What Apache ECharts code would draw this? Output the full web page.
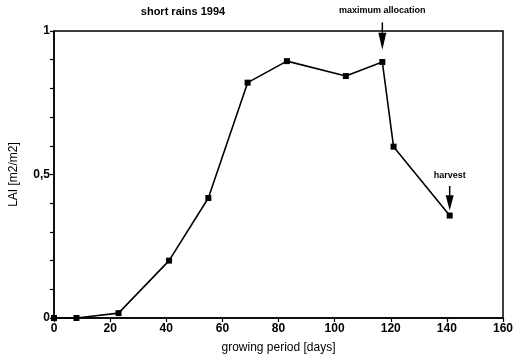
<!DOCTYPE html>
<html><head><meta charset="utf-8">
<script src="https://cdn.jsdelivr.net/npm/echarts@6/dist/echarts.min.js"></script>
<style>html,body{margin:0;padding:0;background:#fff}#c{width:519px;height:360px}</style>
</head><body><div id="c"></div>
<script>
const days = [0, 8, 23, 41, 55, 69, 83, 104, 117, 121, 141];
const lai = [0, 0, 0.017, 0.2, 0.418, 0.82, 0.895, 0.843, 0.892, 0.597, 0.357];
const yTickLabels = {0: '0', 0.5: '0,5', 1: '1'};
const title = 'short rains 1994';
const annotations = [
  {text: 'maximum allocation', x: 117, yText: 1.07, yFrom: 1.03, yTo: 0.935},
  {text: 'harvest', x: 141, yText: 0.495, yFrom: 0.46, yTo: 0.375}
];
const font = 'Liberation Sans, Arial, sans-serif';
const chart = echarts.init(document.getElementById('c'));
chart.setOption({
  animation: false,
  backgroundColor: '#fff',
  title: {text: title, left: 178, top: 1, textAlign: 'center',
    textStyle: {fontFamily: font, fontSize: 11, fontWeight: 'bold', color: '#000'}},
  grid: {left: 54, right: 16, top: 31, bottom: 42, show: true, borderColor: '#000', borderWidth: 1.5, backgroundColor: 'transparent'},
  xAxis: {type: 'value', min: 0, max: 160, interval: 20,
    name: 'growing period [days]', nameLocation: 'middle', nameGap: 24,
    nameTextStyle: {fontFamily: font, fontSize: 12, color: '#000'},
    axisLine: {lineStyle: {color: '#000', width: 1.5}},
    axisTick: {show: true, length: 4, lineStyle: {color: '#000', width: 1.2}},
    axisLabel: {fontFamily: font, fontSize: 12, fontWeight: 'bold', color: '#000', margin: 5},
    splitLine: {show: false}},
  yAxis: {type: 'value', min: 0, max: 1, interval: 0.1,
    name: 'LAI [m2/m2]', nameLocation: 'middle', nameGap: 34,
    nameTextStyle: {fontFamily: font, fontSize: 12, color: '#000'},
    axisLine: {lineStyle: {color: '#000', width: 1.5}},
    axisTick: {show: true, interval: 0, length: 4, lineStyle: {color: '#000', width: 1.2}},
    axisLabel: {interval: 0, fontFamily: font, fontSize: 12, fontWeight: 'bold', color: '#000', margin: 4,
      formatter: v => { const k = Math.round(v * 10) / 10; return yTickLabels[k] !== undefined ? yTickLabels[k] : ''; }},
    splitLine: {show: false}},
  series: [{
    type: 'line', data: days.map((d, i) => [d, lai[i]]),
    symbol: 'rect', symbolSize: 6, showSymbol: true,
    itemStyle: {color: '#000'},
    lineStyle: {color: '#000', width: 1.6}
  }]
});
const g = [];
annotations.forEach(a => {
  const pt = chart.convertToPixel({gridIndex: 0}, [a.x, a.yText]);
  const p1 = chart.convertToPixel({gridIndex: 0}, [a.x, a.yFrom]);
  const p2 = chart.convertToPixel({gridIndex: 0}, [a.x, a.yTo]);
  const headLen = (p2[1] - p1[1]) * 0.62;
  g.push({type: 'text', x: pt[0], y: pt[1], style: {text: a.text, fill: '#000', font: 'bold 9px ' + font, textAlign: 'center', textVerticalAlign: 'middle'}});
  g.push({type: 'line', shape: {x1: p1[0], y1: p1[1], x2: p1[0], y2: p2[1] - headLen}, style: {stroke: '#000', lineWidth: 1.5}});
  g.push({type: 'polygon', shape: {points: [[p2[0] - 4, p2[1] - headLen], [p2[0] + 4, p2[1] - headLen], [p2[0], p2[1]]]}, style: {fill: '#000'}});
});
chart.setOption({graphic: g});
</script></body></html>
